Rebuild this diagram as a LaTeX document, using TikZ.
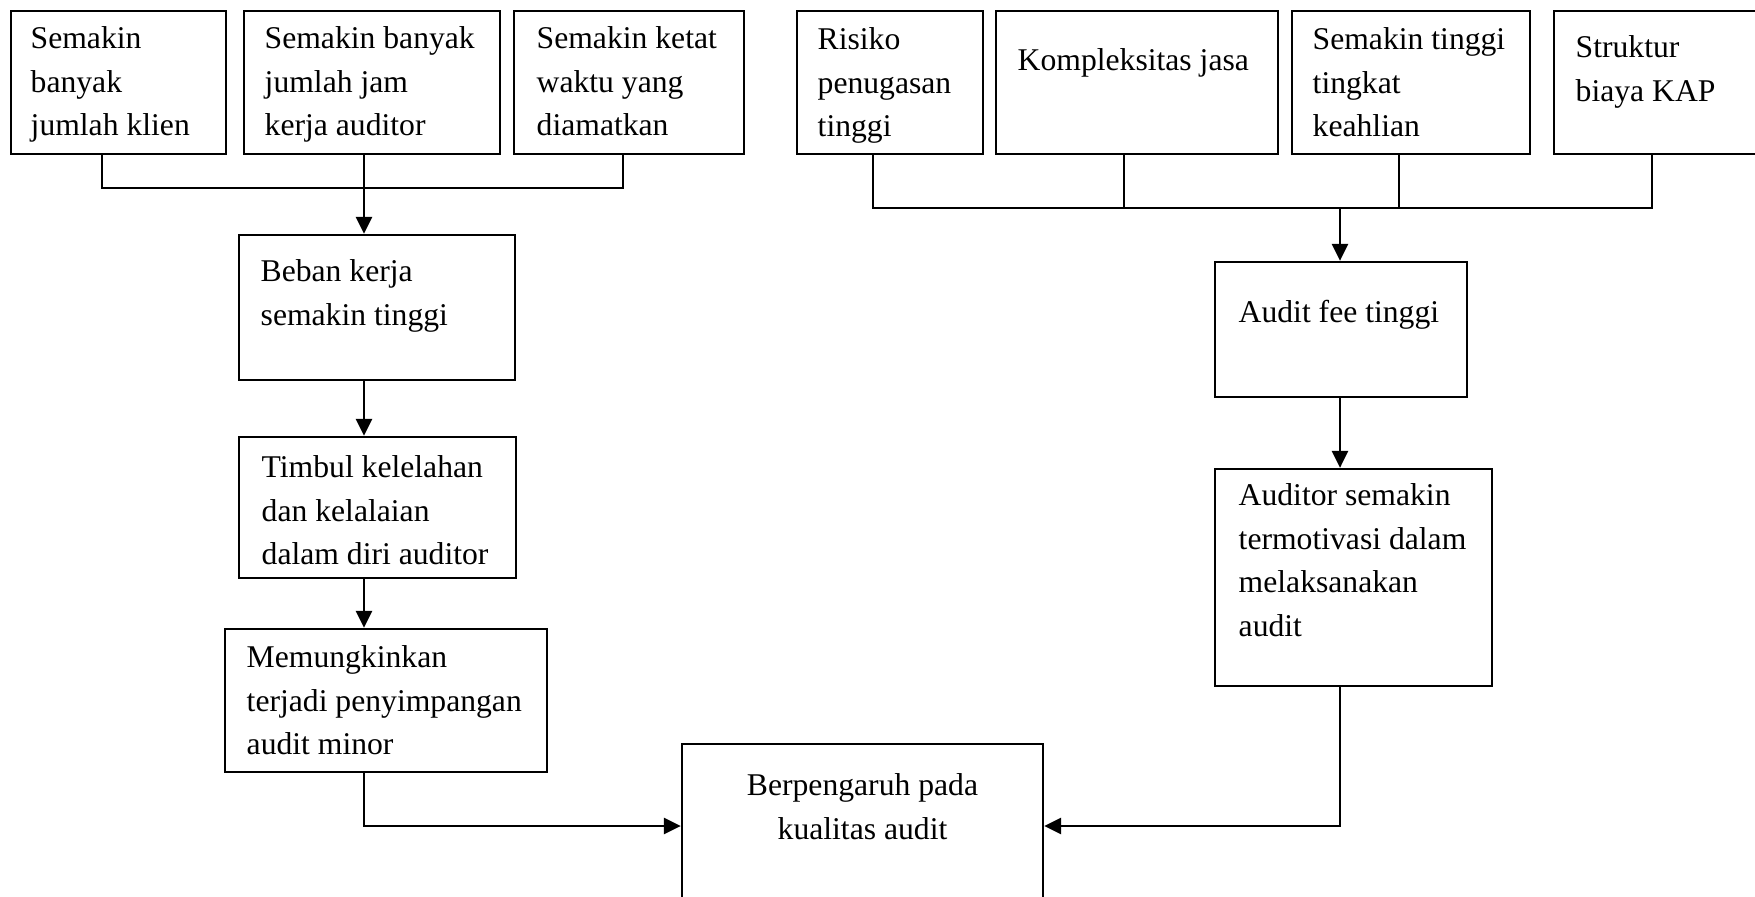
\documentclass[tikz,border=0pt]{standalone}
\usepackage{fontspec}
\setmainfont{Liberation Serif}
\usetikzlibrary{fit,arrows.meta}
\begin{document}
\begin{tikzpicture}[x=0.01cm,y=-0.01cm,
  box/.style={draw,line width=0.7pt,inner sep=0pt},
  txt/.style={anchor=north west,inner sep=0pt,align=left,font=\fontsize{9}{12.4}\selectfont},
  ctxt/.style={anchor=north,inner sep=0pt,align=center,font=\fontsize{9}{12.4}\selectfont},
  conn/.style={line width=0.45pt},
  arr/.style={line width=0.6pt,-{Triangle[width=4.6pt,length=4.8pt]}}]
\useasboundingbox (0,0) rectangle (1755,896);
\clip (0,0) rectangle (1755,896);
\fill[white] (0,0) rectangle (1755,896);
% top left boxes
\node[box,fit={(11,11) (226,154)}] (b1) {};
\node[box,fit={(244,11) (500,154)}] (b2) {};
\node[box,fit={(514,11) (744,154)}] (b3) {};
\node[txt] (t1) at (30,26) {Semakin\\banyak\\jumlah klien};
\node[txt] (t2) at (264,26) {Semakin banyak\\jumlah jam\\kerja auditor};
\node[txt] (t3) at (536,26) {Semakin ketat\\waktu yang\\diamatkan};
% top right boxes
\node[box,fit={(797,11) (983,154)}] (r1) {};
\node[box,fit={(996,11) (1278,154)}] (r2) {};
\node[box,fit={(1292,11) (1530,154)}] (r3) {};
\node[box,fit={(1554,11) (1762,154)}] (r4) {};
\node[txt] (tr1) at (817,27) {Risiko\\penugasan\\tinggi};
\node[txt] (tr2) at (1017,48) {Kompleksitas jasa};
\node[txt] (tr3) at (1312,27) {Semakin tinggi\\tingkat\\keahlian};
\node[txt] (tr4) at (1575,35) {Struktur\\biaya KAP};
% left column
\node[box,fit={(239,235) (515,380)}] (beban) {};
\node[txt] (tb) at (260,259) {Beban kerja\\semakin tinggi};
\node[box,fit={(239,437) (516,578)}] (timbul) {};
\node[txt] (tt) at (261,455) {Timbul kelelahan\\dan kelalaian\\dalam diri auditor};
\node[box,fit={(225,629) (547,772)}] (mem) {};
\node[txt] (tm) at (246,645) {Memungkinkan\\terjadi penyimpangan\\audit minor};
% right column
\node[box,fit={(1215,262) (1467,397)}] (fee) {};
\node[txt] (tf) at (1238,299) {Audit fee tinggi};
\node[box,fit={(1215,469) (1492,686)}] (aud) {};
\node[txt] (ta) at (1238,483) {Auditor semakin\\termotivasi dalam\\melaksanakan\\audit};
% centre
\node[box,fit={(682,744) (1043,910)}] (pusat) {};
\node[ctxt] (tp) at (862.5,773) {Berpengaruh pada\\kualitas audit};
% left bracket
\coordinate (la) at (102,188);
\coordinate (lb) at (623,188);
\coordinate (lj) at (364,188);
\draw[conn] (b1.south -| la) -- (la) -- (lb) -- (b3.south -| lb);
\draw[conn] (b2.south -| lj) -- (lj);
\draw[arr] (lj) -- (beban.north -| lj);
\draw[arr] (beban.south -| lj) -- (timbul.north -| lj);
\draw[arr] (timbul.south -| lj) -- (mem.north -| lj);
\coordinate (lk) at (364,826);
\draw[arr] (mem.south -| lk) -- (lk) -- (pusat.west |- lk);
% right bracket
\coordinate (ra) at (873,208);
\coordinate (rb) at (1124,208);
\coordinate (rc) at (1399,208);
\coordinate (rd) at (1652,208);
\coordinate (rj) at (1340,208);
\draw[conn] (r1.south -| ra) -- (ra) -- (rd) -- (r4.south -| rd);
\draw[conn] (r2.south -| rb) -- (rb);
\draw[conn] (r3.south -| rc) -- (rc);
\draw[arr] (rj) -- (fee.north -| rj);
\draw[arr] (fee.south -| rj) -- (aud.north -| rj);
\coordinate (rk) at (1340,826);
\draw[arr] (aud.south -| rk) -- (rk) -- (pusat.east |- rk);
\end{tikzpicture}
\end{document}
